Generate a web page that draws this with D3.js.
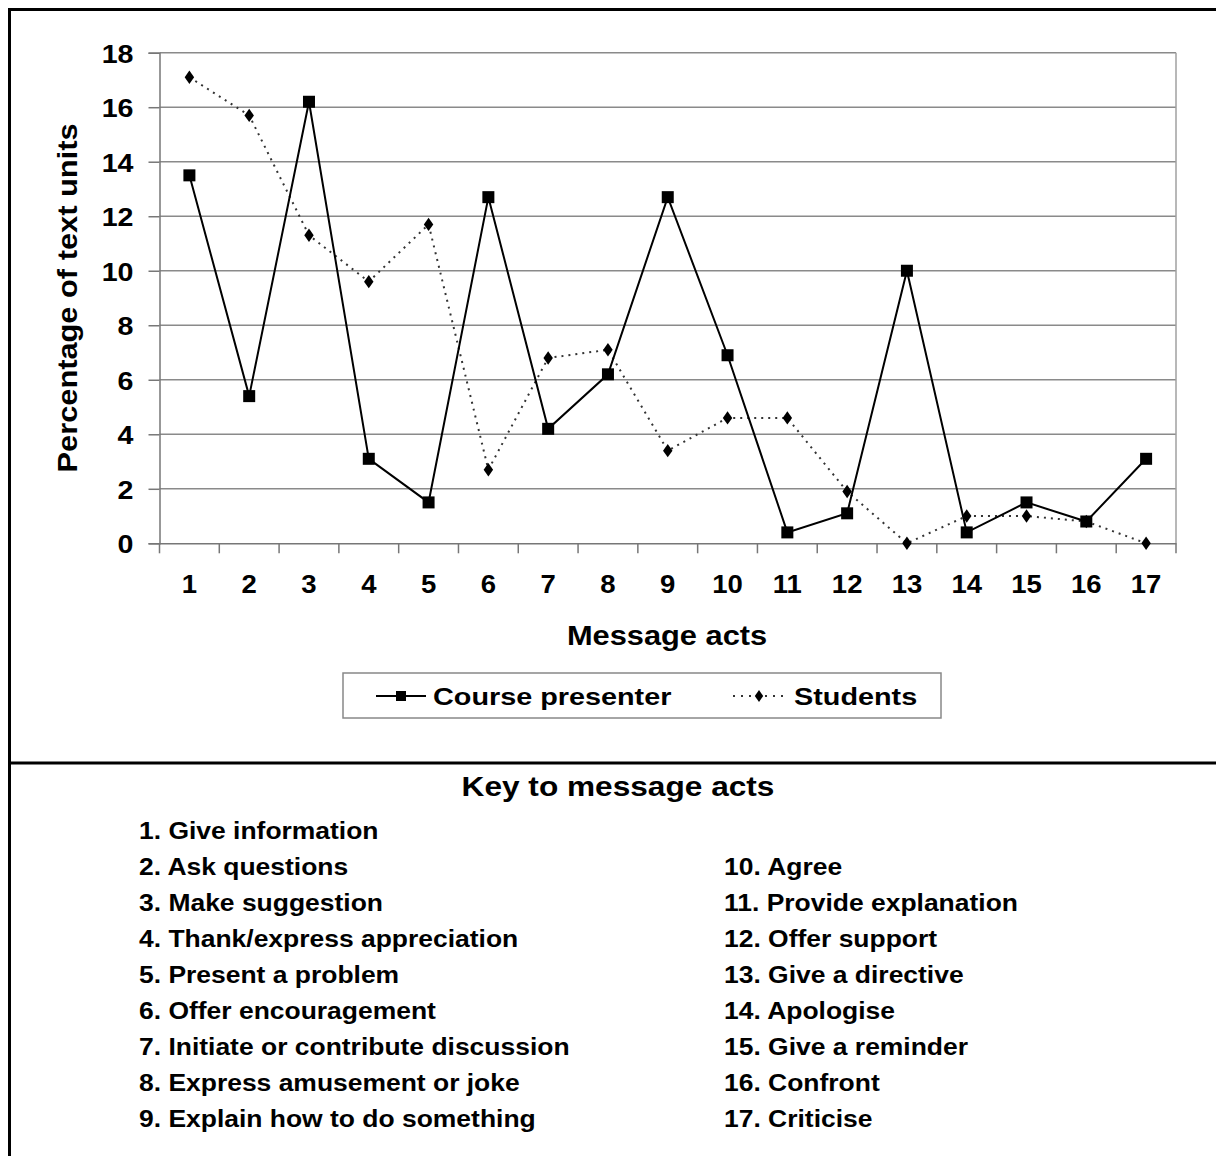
<!DOCTYPE html>
<html><head><meta charset="utf-8">
<script src="https://cdn.jsdelivr.net/npm/d3@7"></script>
<style>body{margin:0;background:#fff}svg{display:block}text{font-family:"Liberation Sans",Arial,sans-serif;font-weight:bold;fill:#000}</style>
</head><body><svg id="c" width="1216" height="1156"></svg>
<script>
const categories = ["1","2","3","4","5","6","7","8","9","10","11","12","13","14","15","16","17"];
const presenter = [13.5,5.4,16.2,3.1,1.5,12.7,4.2,6.2,12.7,6.9,0.4,1.1,10.0,0.4,1.5,0.8,3.1];
const students = [17.1,15.7,11.3,9.6,11.7,2.7,6.8,7.1,3.4,4.6,4.6,1.9,0.0,1.0,1.0,0.8,0.0];
const yTicks = [0,2,4,6,8,10,12,14,16,18];
const seriesNames = ["Course presenter","Students"];
const keyTitle = "Key to message acts";
const keyLeft = ["1. Give information","2. Ask questions","3. Make suggestion","4. Thank/express appreciation","5. Present a problem","6. Offer encouragement","7. Initiate or contribute discussion","8. Express amusement or joke","9. Explain how to do something"];
const keyRight = ["10. Agree","11. Provide explanation","12. Offer support","13. Give a directive","14. Apologise","15. Give a reminder","16. Confront","17. Criticise"];

const svg = d3.select("#c");
// helper: text stretched horizontally around its anchor
function stext(parent, x, y, str, fs, sx, anchor) {
  return parent.append("text").attr("transform",`translate(${x},${y}) scale(${sx},1)`)
    .attr("text-anchor",anchor||"start").style("font-size",fs+"px").text(str);
}
// frame
svg.append("line").attr("x1",8).attr("x2",1216).attr("y1",9.5).attr("y2",9.5).attr("stroke","#000").attr("stroke-width",3);
svg.append("line").attr("x1",9.5).attr("x2",9.5).attr("y1",8).attr("y2",1156).attr("stroke","#000").attr("stroke-width",3);
svg.append("line").attr("x1",8).attr("x2",1216).attr("y1",763).attr("y2",763).attr("stroke","#000").attr("stroke-width",3);

const L=159.5, R=1176, T=52.7, B=543.3;
const x = d3.scaleBand().domain(categories).range([L,R]);
const y = d3.scaleLinear().domain([0,18]).range([B,T]);
const cx = d => x(d)+x.bandwidth()/2;

// grid
svg.append("g").selectAll("line").data(yTicks.filter(d=>d>0)).join("line")
  .attr("x1",L).attr("x2",R).attr("y1",d=>y(d)).attr("y2",d=>y(d))
  .attr("stroke","#8a8a8a").attr("stroke-width",1.5);
svg.append("line").attr("x1",R).attr("x2",R).attr("y1",T).attr("y2",B).attr("stroke","#a0a0a0").attr("stroke-width",1.5);

// axes
const ya = svg.append("g").attr("transform",`translate(${L},0)`)
  .call(d3.axisLeft(y).tickValues(yTicks).tickSize(11).tickPadding(8));
ya.select(".domain").attr("stroke","#777").attr("stroke-width",1.5);
ya.selectAll(".tick line").attr("stroke","#777").attr("stroke-width",1.5);
ya.selectAll("text").attr("x",0).attr("dy","0.36em").attr("transform","translate(-26,0) scale(1.1,1)")
  .style("font-size","26px").attr("fill","#111");

const xa = svg.append("g").attr("transform",`translate(0,${B})`)
  .call(d3.axisBottom(x).tickSize(0).tickPadding(0));
xa.select(".domain").attr("stroke","#777").attr("stroke-width",1.5);
xa.selectAll("text").attr("y",0).attr("dy",0).attr("transform","translate(0,50) scale(1.1,1)")
  .style("font-size","25px").attr("fill","#111");
// category boundary ticks
svg.append("g").selectAll("line").data(d3.range(categories.length+1)).join("line")
  .attr("x1",i=>L+i*x.bandwidth()).attr("x2",i=>L+i*x.bandwidth())
  .attr("y1",B).attr("y2",B+10).attr("stroke","#777").attr("stroke-width",1.5);

// axis titles
svg.append("text").attr("transform","translate(77,298) rotate(-90) scale(1.1,1)").attr("text-anchor","middle")
  .style("font-size","28px").text("Percentage of text units");
stext(svg, 667, 645, "Message acts", 28, 1.1, "middle");

// lines
const line = d3.line().x((d,i)=>cx(categories[i])).y(d=>y(d));
svg.append("path").datum(students).attr("d",line).attr("fill","none").attr("stroke","#333")
  .attr("stroke-width",2).attr("stroke-dasharray","2,5");
svg.append("path").datum(presenter).attr("d",line).attr("fill","none").attr("stroke","#000").attr("stroke-width",2);
svg.append("g").selectAll("path").data(students).join("path")
  .attr("d",d3.symbol(d3.symbolDiamond,64)())
  .attr("transform",(d,i)=>`translate(${cx(categories[i])},${y(d)}) scale(1.1,0.9)`).attr("fill","#000");
svg.append("g").selectAll("rect").data(presenter).join("rect")
  .attr("x",(d,i)=>cx(categories[i])-6).attr("y",d=>y(d)-6).attr("width",12).attr("height",12).attr("fill","#000");

// legend
svg.append("rect").attr("x",343).attr("y",673).attr("width",598).attr("height",45).attr("fill","none").attr("stroke","#888").attr("stroke-width",1.5);
svg.append("line").attr("x1",376).attr("x2",426).attr("y1",696).attr("y2",696).attr("stroke","#000").attr("stroke-width",2);
svg.append("rect").attr("x",396).attr("y",691).attr("width",10).attr("height",10).attr("fill","#000");
stext(svg, 433, 705, seriesNames[0], 24, 1.2);
svg.append("line").attr("x1",733).attr("x2",786).attr("y1",696).attr("y2",696).attr("stroke","#333").attr("stroke-width",2).attr("stroke-dasharray","2,6");
svg.append("path").attr("d",d3.symbol(d3.symbolDiamond,50)()).attr("transform","translate(759,696) scale(1.1,0.9)").attr("fill","#000");
stext(svg, 794, 705, seriesNames[1], 24, 1.2);

// key
stext(svg, 618, 796, keyTitle, 28, 1.13, "middle");
const gl = svg.append("g");
keyLeft.forEach((d,i)=>stext(gl, 139, 839+i*36, d, 24.5, 1.08));
const gr = svg.append("g");
keyRight.forEach((d,i)=>stext(gr, 724, 875+i*36, d, 24.5, 1.08));
</script></body></html>
